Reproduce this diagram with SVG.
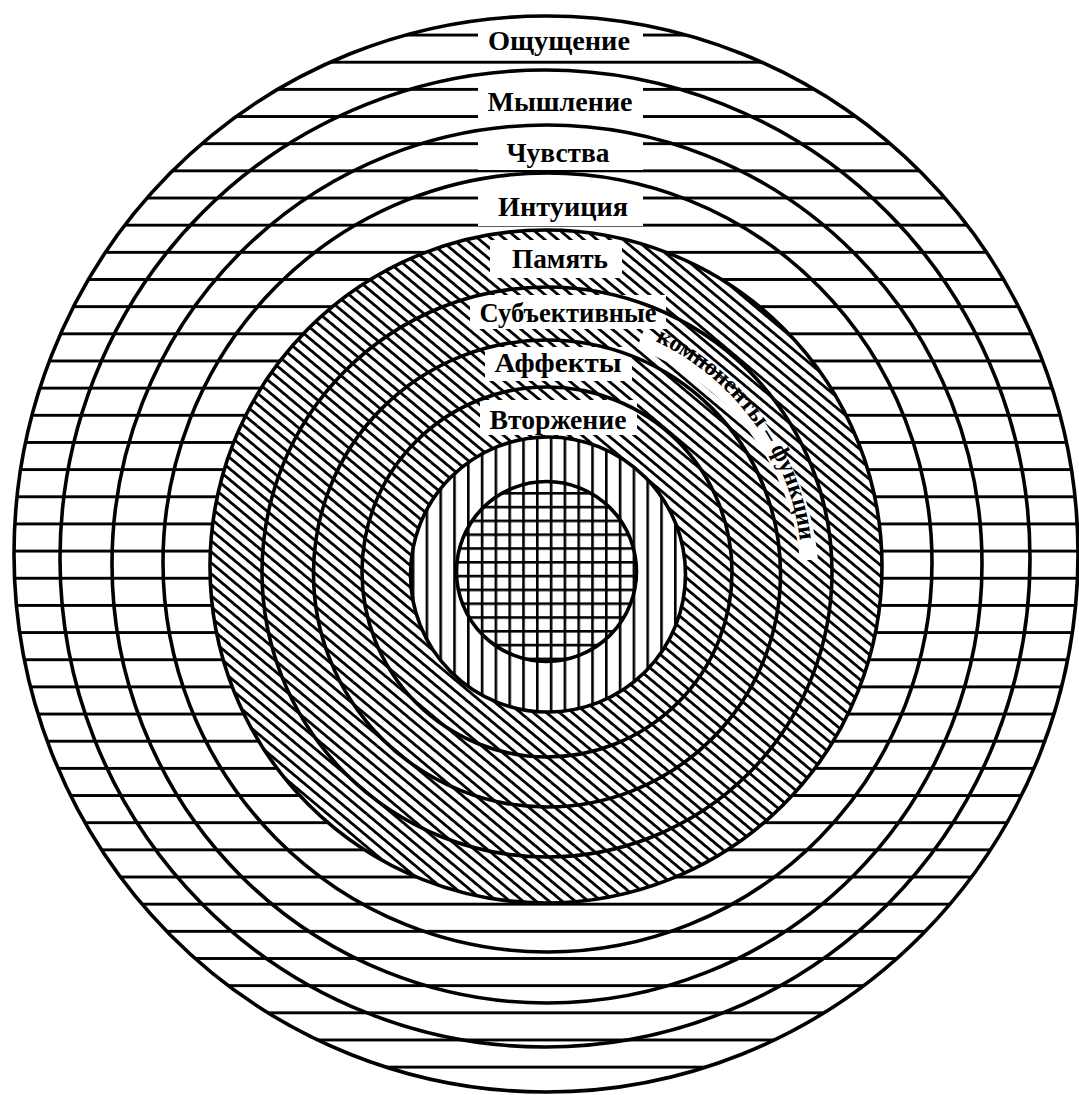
<svg xmlns="http://www.w3.org/2000/svg" width="1079" height="1095" viewBox="0 0 1079 1095">
<style>
.ring{fill:none;stroke:#000;stroke-width:3.6}
.lbl{font-family:"Liberation Serif","Times New Roman",serif;font-weight:bold;font-size:28px;fill:#000;text-anchor:middle}
.arc{font-family:"Liberation Serif","Times New Roman",serif;font-weight:bold;font-size:24px;fill:#000}
.box{fill:#fff}
</style>
<defs>
<pattern id="hl" patternUnits="userSpaceOnUse" x="0" y="33.6" width="1079" height="27.16">
<rect x="0" y="0" width="1079" height="2.9" fill="#000"/>
</pattern>
<pattern id="dg" patternUnits="userSpaceOnUse" x="0" y="0" width="20" height="8.4" patternTransform="rotate(40)">
<rect x="0" y="0" width="20" height="2.8" fill="#000"/>
</pattern>
<pattern id="vl" patternUnits="userSpaceOnUse" x="467" y="0" width="13.8" height="20">
<rect x="0" y="0" width="2.6" height="20" fill="#000"/>
</pattern>
<pattern id="gr" patternUnits="userSpaceOnUse" x="467" y="492" width="13.8" height="13.8">
<rect x="0" y="0" width="2.6" height="13.8" fill="#000"/>
<rect x="0" y="0" width="13.8" height="2.6" fill="#000"/>
</pattern>
<path id="arcPath" d="M 642.5 335.6 A 255 255 0 0 1 802 572"/>
</defs>
<rect x="0" y="0" width="1079" height="1095" fill="#fff"/>
<g id="fills">
<ellipse cx="546" cy="554" rx="532" ry="538" fill="url(#hl)"/>
<ellipse cx="546" cy="566.5" rx="336" ry="336.5" fill="#fff"/>
<ellipse cx="546" cy="566.5" rx="336" ry="336.5" fill="url(#dg)"/>
<circle cx="548" cy="574.5" r="137.5" fill="#fff"/>
<circle cx="548" cy="574.5" r="137.5" fill="url(#vl)"/>
<circle cx="546.5" cy="571.5" r="90" fill="#fff"/>
<circle cx="546.5" cy="571.5" r="90" fill="url(#gr)"/>
</g>
<g id="label-boxes">
<rect class="box" x="478" y="24" width="165" height="34"/>
<rect class="box" x="478" y="80" width="165" height="38"/>
<rect class="box" x="478" y="133" width="165" height="37"/>
<rect class="box" x="478" y="184" width="165" height="42"/>
<rect class="box" x="490" y="240" width="132" height="38"/>
<rect class="box" x="470" y="295" width="196" height="34"/>
<rect class="box" x="485" y="347" width="147" height="34"/>
<rect class="box" x="480" y="400" width="157" height="35"/>
<path d="M 640 340 A 262 262 0 0 1 809 560" fill="none" stroke="#fff" stroke-width="18"/>
</g>
<g id="connectors"></g>
<g id="node-sensation">
<ellipse class="ring" cx="546" cy="554" rx="532" ry="538"/>
<text class="lbl" x="559" y="50" textLength="142" lengthAdjust="spacingAndGlyphs">Ощущение</text>
</g>
<g id="node-thinking">
<ellipse class="ring" cx="545" cy="558.5" rx="485" ry="488.5"/>
<text class="lbl" x="560" y="111" textLength="145" lengthAdjust="spacingAndGlyphs">Мышление</text>
</g>
<g id="node-feeling">
<ellipse class="ring" cx="547" cy="564" rx="435" ry="439"/>
<text class="lbl" x="558" y="162" textLength="103" lengthAdjust="spacingAndGlyphs">Чувства</text>
</g>
<g id="node-intuition">
<ellipse class="ring" cx="547.5" cy="562.5" rx="384.5" ry="389.5"/>
<text class="lbl" x="563" y="216" textLength="130" lengthAdjust="spacingAndGlyphs">Интуиция</text>
</g>
<g id="node-memory">
<ellipse class="ring" cx="546" cy="566.5" rx="336" ry="336.5"/>
<text class="lbl" x="560" y="268" textLength="96" lengthAdjust="spacingAndGlyphs">Память</text>
</g>
<g id="node-subjective">
<circle class="ring" cx="547" cy="572" r="285"/>
<text class="lbl" x="568" y="322" textLength="177" lengthAdjust="spacingAndGlyphs">Субъективные</text>
<text class="arc"><textPath href="#arcPath" startOffset="14">компоненты – функции</textPath></text>
</g>
<g id="node-affects">
<circle class="ring" cx="547" cy="573.5" r="233.5"/>
<text class="lbl" x="558" y="372" textLength="127" lengthAdjust="spacingAndGlyphs">Аффекты</text>
</g>
<g id="node-invasion">
<circle class="ring" cx="547" cy="572" r="185"/>
<text class="lbl" x="558" y="429" textLength="137" lengthAdjust="spacingAndGlyphs">Вторжение</text>
</g>
<g id="node-inner">
<circle class="ring" cx="548" cy="574.5" r="137.5"/>
</g>
<g id="node-core">
<circle class="ring" cx="546.5" cy="571.5" r="90"/>
</g>
</svg>
